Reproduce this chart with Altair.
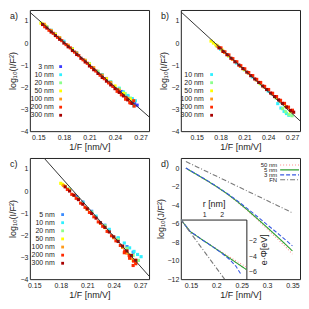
import altair as alt
import pandas as pd

FONT = "Liberation Sans"
W, H = 120, 122
INK = "#222222"
PSIZE = 10

series_keys = ["3 nm", "5 nm", "10 nm", "20 nm", "50 nm", "100 nm", "200 nm", "300 nm"]
series_colors = ["#3c3cff", "#3a8cff", "#30f0ff", "#8cff8c", "#ffff00", "#ff9a1a", "#ff2a00", "#a80000"]

# ---------------- panel a ----------------
a3_x = [0.17, 0.19, 0.21, 0.23, 0.248, 0.255, 0.26, 0.263, 0.266]
a3_y = [0.40, -0.27, -0.94, -1.61, -2.20, -2.40, -2.55, -2.70, -2.82]
a10_x = [0.165, 0.18, 0.195, 0.21, 0.225, 0.235, 0.245, 0.25, 0.255, 0.26, 0.264, 0.262]
a10_y = [0.58, 0.08, -0.43, -0.93, -1.43, -1.76, -2.05, -2.22, -2.38, -2.52, -2.62, -2.85]
a20_x = [0.16, 0.175, 0.19, 0.205, 0.22, 0.235, 0.245, 0.252, 0.258, 0.262]
a20_y = [0.75, 0.24, -0.27, -0.78, -1.28, -1.78, -2.08, -2.30, -2.50, -2.62]
a50_x = [0.153, 0.155, 0.158, 0.17, 0.19, 0.21, 0.23, 0.24, 0.25, 0.258]
a50_y = [0.90, 0.86, 0.78, 0.40, -0.28, -0.95, -1.62, -1.95, -2.28, -2.55]
a100_x = [0.157, 0.165, 0.175, 0.185, 0.195, 0.205, 0.215, 0.225, 0.235, 0.245, 0.255]
a100_y = [0.85, 0.57, 0.24, -0.10, -0.45, -0.79, -1.12, -1.46, -1.79, -2.15, -2.52]
a200_x = [0.1575, 0.1625, 0.1675, 0.1725, 0.1775, 0.1825, 0.1875, 0.1925, 0.1975, 0.2025, 0.2075,
          0.2125, 0.2175, 0.2225, 0.2275, 0.2325, 0.2375, 0.2425, 0.2475, 0.2525, 0.2575, 0.2625,
          0.243, 0.248, 0.253, 0.258, 0.262]
a200_y = [0.74, 0.58, 0.44, 0.26, 0.11, -0.07, -0.22, -0.41, -0.57, -0.76, -0.92,
          -1.11, -1.27, -1.46, -1.62, -1.81, -1.97, -2.19, -2.34, -2.55, -2.70, -2.86,
          -2.12, -2.35, -2.47, -2.72, -2.62]
a300_x = [0.155, 0.16, 0.165, 0.17, 0.175, 0.18, 0.185, 0.19, 0.195, 0.20, 0.205, 0.21, 0.215,
          0.22, 0.225, 0.23, 0.235, 0.24, 0.245, 0.25, 0.255, 0.26]
a300_y = [0.84, 0.68, 0.50, 0.34, 0.17, 0.00, -0.17, -0.34, -0.52, -0.69, -0.86, -1.04, -1.21,
          -1.38, -1.56, -1.73, -1.90, -2.07, -2.24, -2.40, -2.58, -2.74]
a_fit_x = [0.14, 0.28]
a_fit_y = [1.40, -3.35]

# ---------------- panel b ----------------
b10_x = [0.18, 0.2, 0.22, 0.24, 0.252, 0.256, 0.26, 0.263, 0.266]
b10_y = [-0.28, -0.91, -1.54, -2.18, -2.75, -2.95, -3.10, -3.20, -3.28]
b20_x = [0.175, 0.19, 0.21, 0.23, 0.25, 0.258, 0.262, 0.266, 0.27]
b20_y = [-0.12, -0.59, -1.22, -1.85, -2.50, -2.98, -3.12, -3.25, -3.30]
b50_x = [0.168, 0.171, 0.174, 0.177, 0.182, 0.19, 0.21, 0.23, 0.25, 0.262, 0.268]
b50_y = [0.09, 0.0, -0.08, -0.16, -0.32, -0.57, -1.20, -1.83, -2.46, -2.88, -3.12]
b100_x = [0.176, 0.185, 0.195, 0.205, 0.215, 0.225, 0.235, 0.245, 0.255, 0.265, 0.27]
b100_y = [-0.14, -0.43, -0.74, -1.06, -1.37, -1.68, -2.00, -2.31, -2.63, -2.94, -3.08]
b200_x = [0.1805, 0.1855, 0.1905, 0.1955, 0.2005, 0.2055, 0.2105, 0.2155, 0.2205, 0.2255, 0.2305,
          0.2355, 0.2405, 0.2455, 0.2505, 0.2555, 0.2605, 0.2655, 0.2705]
b200_y = [-0.22, -0.40, -0.54, -0.71, -0.85, -1.03, -1.17, -1.34, -1.48, -1.65, -1.79,
          -1.97, -2.11, -2.28, -2.43, -2.60, -2.74, -2.91, -3.05]
b300_x = [0.178, 0.183, 0.188, 0.193, 0.198, 0.203, 0.208, 0.213, 0.218, 0.223, 0.228, 0.233,
          0.238, 0.243, 0.248, 0.253, 0.258, 0.263, 0.268, 0.272]
b300_y = [-0.22, -0.38, -0.53, -0.69, -0.85, -1.00, -1.16, -1.32, -1.48, -1.63, -1.79, -1.95,
          -2.11, -2.27, -2.43, -2.58, -2.74, -2.90, -3.06, -3.14]
b_fit_x = [0.13, 0.28]
b_fit_y = [1.42, -3.53]

# ---------------- panel c ----------------
c5_x = [0.19, 0.198, 0.205, 0.215, 0.23, 0.245, 0.255, 0.262]
c5_y = [0.06, -0.25, -0.5, -0.92, -1.55, -2.15, -2.52, -2.78]
c10_x = [0.19, 0.205, 0.22, 0.235, 0.245, 0.252, 0.258, 0.263, 0.267, 0.271]
c10_y = [0.07, -0.52, -1.14, -1.74, -2.12, -2.36, -2.58, -2.74, -2.88, -2.98]
c20_x = [0.188, 0.2, 0.215, 0.23, 0.245, 0.255, 0.262, 0.268]
c20_y = [0.1, -0.34, -0.96, -1.58, -2.2, -2.6, -2.92, -3.15]
c50_x = [0.18, 0.182, 0.185, 0.19, 0.21, 0.23, 0.25, 0.258, 0.262]
c50_y = [0.35, 0.3, 0.22, 0.05, -0.8, -1.66, -2.52, -2.9, -3.15]
c100_x = [0.183, 0.195, 0.21, 0.225, 0.24, 0.25, 0.255, 0.26, 0.265]
c100_y = [0.25, -0.2, -0.83, -1.47, -2.12, -2.56, -2.82, -3.05, -3.25]
c200_x = [0.1875, 0.1925, 0.1975, 0.2025, 0.2075, 0.2125, 0.2175, 0.2225, 0.2275, 0.2325, 0.2375,
          0.2425, 0.2475, 0.2525, 0.2575, 0.2625, 0.252, 0.258, 0.262, 0.265]
c200_y = [0.07, -0.15, -0.33, -0.55, -0.74, -0.97, -1.17, -1.40, -1.60, -1.83, -2.03,
          -2.26, -2.47, -2.72, -2.93, -3.18, -2.80, -3.05, -3.38, -3.30]
c300_x = [0.185, 0.19, 0.195, 0.2, 0.205, 0.21, 0.215, 0.22, 0.225, 0.23, 0.235, 0.24, 0.245,
          0.25, 0.255, 0.26, 0.265]
c300_y = [0.19, 0.0, -0.19, -0.39, -0.6, -0.81, -1.02, -1.23, -1.44, -1.65, -1.86, -2.08, -2.29,
          -2.5, -2.72, -2.93, -3.14]
c_fit_x = [0.161, 0.28]
c_fit_y = [1.5, -3.86]

# ---------------- panel d ----------------
d_keys = ["50 nm", "5 nm", "3 nm", "FN"]
d_colors = ["#ff8a8a", "#2e9e2e", "#3a5ae0", "#7a7a7a"]
d_dash = [[1, 2], [1, 0], [4, 2], [5, 2, 1, 2]]
d_x = [0.14, 0.16, 0.18, 0.20, 0.22, 0.24, 0.26, 0.28, 0.30, 0.32, 0.34, 0.35]
d_50 = [-0.02, -0.66, -1.32, -2.00, -2.76, -3.60, -4.53, -5.53, -6.56, -7.62, -8.70, -9.30]
d_5 = [0.0, -0.64, -1.30, -1.98, -2.72, -3.55, -4.46, -5.42, -6.40, -7.40, -8.42, -8.95]
d_3 = [0.02, -0.62, -1.27, -1.95, -2.68, -3.47, -4.32, -5.20, -6.10, -7.00, -7.92, -8.40]
d_fn = [0.72, 0.19, -0.34, -0.86, -1.39, -1.92, -2.45, -2.98, -3.50, -4.03, -4.56, -4.83]

in_r = [-0.33, 0.2, 0.9, 1.4, 1.9, 2.4, 2.9, 3.4]
in_50 = [0.75, -0.8, -1.9, -2.62, -3.35, -4.05, -4.75, -5.42]
in_5 = [0.75, -0.8, -1.9, -2.65, -3.42, -4.2, -4.98, -5.75]
in_3_r = [-0.33, 0.2, 0.9, 1.4, 1.9, 2.4, 2.8, 3.1]
in_3 = [0.75, -0.8, -1.9, -2.65, -3.45, -4.35, -5.3, -6.4]
in_fn_r = [-0.33, 2.16]
in_fn = [0.75, -7.0]


def pts(series):
    rows = []
    for name, xs, ys in series:
        for x, y in zip(xs, ys):
            rows.append({"x": x, "y": y, "s": name})
    return pd.DataFrame(rows)


color_pts = alt.Color("s:N", scale=alt.Scale(domain=series_keys, range=series_colors), legend=None)


def scatter_panel(df, fit_x, fit_y, xdom, legend_names, tx, sx, ly0, ly1, label):
    xs = alt.Scale(domain=xdom, nice=False, zero=False)
    ys = alt.Scale(domain=[-4, 1.5], nice=False, zero=False)
    xaxis = alt.Axis(values=[0.15, 0.18, 0.21, 0.24, 0.27], format=".2f", title="1/F [nm/V]")
    yaxis = alt.Axis(values=[-4, -3, -2, -1, 0, 1], title="log₁₀(I/F²)")
    points = alt.Chart(df).mark_square(size=PSIZE, opacity=1).encode(
        x=alt.X("x:Q", scale=xs, axis=xaxis),
        y=alt.Y("y:Q", scale=ys, axis=yaxis),
        color=color_pts,
    )
    fit = alt.Chart(pd.DataFrame({"x": fit_x, "y": fit_y})).mark_line(
        color="#333333", strokeWidth=1, clip=True
    ).encode(
        x=alt.X("x:Q", scale=xs, axis=xaxis),
        y=alt.Y("y:Q", scale=ys, axis=None),
    )
    leg = pd.DataFrame({"s": legend_names})
    ly = alt.Y("s:N", sort=legend_names,
               scale=alt.Scale(type="point", domain=legend_names, range=[ly0, ly1], padding=0),
               axis=None)
    leg_t = alt.Chart(leg).mark_text(align="right", baseline="middle", fontSize=7, font=FONT,
                                     color=INK).encode(x=alt.value(tx), y=ly, text="s:N")
    leg_s = alt.Chart(leg).mark_square(size=8, opacity=1).encode(
        x=alt.value(sx), y=ly, color=color_pts)
    lab = alt.Chart(pd.DataFrame({"t": [label]})).mark_text(
        align="left", baseline="middle", fontSize=9, font=FONT, color=INK
    ).encode(x=alt.value(-20), y=alt.value(6), text="t:N")
    return alt.layer(points, fit, leg_t, leg_s, lab).resolve_scale(y="independent").properties(
        width=W, height=H)


dfa = pts([("3 nm", a3_x, a3_y), ("10 nm", a10_x, a10_y), ("20 nm", a20_x, a20_y),
           ("50 nm", a50_x, a50_y), ("100 nm", a100_x, a100_y), ("200 nm", a200_x, a200_y),
           ("300 nm", a300_x, a300_y)])
dfb = pts([("10 nm", b10_x, b10_y), ("20 nm", b20_x, b20_y), ("50 nm", b50_x, b50_y),
           ("100 nm", b100_x, b100_y), ("200 nm", b200_x, b200_y), ("300 nm", b300_x, b300_y)])
dfc = pts([("5 nm", c5_x, c5_y), ("10 nm", c10_x, c10_y), ("20 nm", c20_x, c20_y),
           ("50 nm", c50_x, c50_y), ("100 nm", c100_x, c100_y), ("200 nm", c200_x, c200_y),
           ("300 nm", c300_x, c300_y)])

pa = scatter_panel(dfa, a_fit_x, a_fit_y, [0.14, 0.28],
                   ["3 nm", "10 nm", "20 nm", "50 nm", "100 nm", "200 nm", "300 nm"],
                   24, 31, 57, 106, "a)")
pb = scatter_panel(dfb, b_fit_x, b_fit_y, [0.13, 0.28],
                   ["10 nm", "20 nm", "50 nm", "100 nm", "200 nm", "300 nm"],
                   23, 31, 65, 106, "b)")
pc = scatter_panel(dfc, c_fit_x, c_fit_y, [0.145, 0.28],
                   ["5 nm", "10 nm", "20 nm", "50 nm", "100 nm", "200 nm", "300 nm"],
                   25, 33, 57, 106, "c)")

# panel d
main_rows = []
for k, ys in zip(d_keys, [d_50, d_5, d_3, d_fn]):
    for x, y in zip(d_x, ys):
        main_rows.append({"x": x, "y": y, "k": k})
dfd = pd.DataFrame(main_rows)

in_rows = []
for k, rs, ps in [("50 nm", in_r, in_50), ("5 nm", in_r, in_5), ("3 nm", in_3_r, in_3),
                  ("FN", in_fn_r, in_fn)]:
    for r, p in zip(rs, ps):
        in_rows.append({"r": r, "p": p, "k": k})
dfi = pd.DataFrame(in_rows)

IW, IH = 66, 60
d_color = alt.Color("k:N", scale=alt.Scale(domain=d_keys, range=d_colors), legend=None)
d_sd = alt.StrokeDash("k:N", scale=alt.Scale(domain=d_keys, range=d_dash), legend=None)

d_main = alt.Chart(dfd).mark_line(strokeWidth=1.1, clip=True).encode(
    x=alt.X("x:Q", scale=alt.Scale(domain=[0.13, 0.365], nice=False, zero=False),
            axis=alt.Axis(values=[0.15, 0.2, 0.25, 0.3, 0.35], format=".2~f", title="1/F [nm/V]")),
    y=alt.Y("y:Q", scale=alt.Scale(domain=[-12, 1.1], nice=False, zero=False),
            axis=alt.Axis(values=[-12, -10, -8, -6, -4, -2, 0], title="log₁₀(J/F²)")),
    color=d_color, strokeDash=d_sd, order="x:Q",
)
d_inset = alt.Chart(dfi).mark_line(strokeWidth=1.1, clip=True).encode(
    x=alt.X("r:Q", scale=alt.Scale(domain=[-0.33, 3.4], range=[0, IW], nice=False, zero=False),
            axis=alt.Axis(orient="top", offset=-(H - IH), values=[1, 2], title="r [nm]",
                          domain=True, domainColor=INK, domainWidth=1)),
    y=alt.Y("p:Q", scale=alt.Scale(domain=[-7, 0.75], range=[H, H - IH], nice=False, zero=False),
            axis=alt.Axis(orient="right", offset=-(W - IW), values=[-2, -4, -6], title="e·Φ[eV]",
                          titleAngle=270, titleBaseline="top", titlePadding=3,
                          domain=True, domainColor=INK, domainWidth=1)),
    color=d_color, strokeDash=d_sd, order="r:Q",
)
d_leg = pd.DataFrame({"k": d_keys})
d_ly = alt.Y("k:N", sort=d_keys,
             scale=alt.Scale(type="point", domain=d_keys, range=[7, 22], padding=0), axis=None)
d_leg_t = alt.Chart(d_leg).mark_text(align="right", baseline="middle", fontSize=6, font=FONT,
                                     color=INK).encode(x=alt.value(97), y=d_ly, text="k:N")
d_leg_r = alt.Chart(d_leg).mark_rule(strokeWidth=1.1).encode(
    x=alt.value(100), x2=alt.value(119), y=d_ly, color=d_color, strokeDash=d_sd)
d_lab = alt.Chart(pd.DataFrame({"t": ["d)"]})).mark_text(
    align="left", baseline="middle", fontSize=9, font=FONT, color=INK
).encode(x=alt.value(-20), y=alt.value(6), text="t:N")

pd_ = alt.layer(d_main, d_inset, d_leg_t, d_leg_r, d_lab).resolve_scale(
    x="independent", y="independent").properties(width=W, height=H)

chart = alt.concat(pa, pb, pc, pd_, columns=2, spacing={"row": 27, "column": 32},
                   bounds="flush").resolve_scale(
    x="independent", y="independent", color="independent", strokeDash="independent"
).properties(padding=0).configure_view(stroke=INK, strokeWidth=1).configure_axis(
    labelFont=FONT, titleFont=FONT, labelFontSize=7, titleFontSize=9, labelColor=INK,
    titleColor=INK, titleFontWeight="normal", ticks=False, domain=False, grid=False,
    labelPadding=2, titlePadding=2,
)

chart.save("out.html", embed_options={"renderer": "svg", "actions": False})
